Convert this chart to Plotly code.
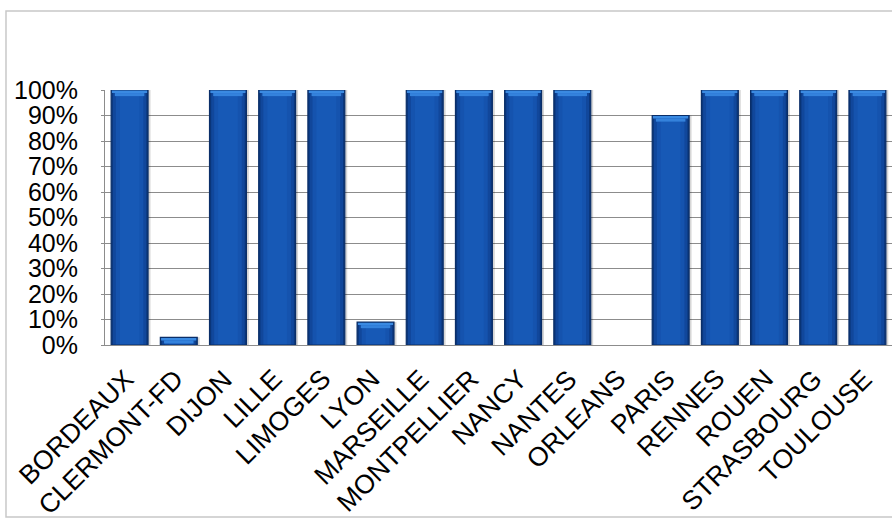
import plotly.graph_objects as go

cities = ["BORDEAUX", "CLERMONT-FD", "DIJON", "LILLE", "LIMOGES", "LYON",
          "MARSEILLE", "MONTPELLIER", "NANCY", "NANTES", "ORLEANS", "PARIS",
          "RENNES", "ROUEN", "STRASBOURG", "TOULOUSE"]
share = [1.00, 0.03, 1.00, 1.00, 1.00, 0.09,
         1.00, 1.00, 1.00, 1.00, 0.00, 0.90,
         1.00, 1.00, 1.00, 1.00]
y_ticks = [i / 10 for i in range(11)]
y_tick_text = [f"{i * 10}%" for i in range(11)]

font_family = "Arial, Liberation Sans, sans-serif"
bar_w = 0.75
cap = 0.012  # thickness of each step of the bevelled top

fig = go.Figure()

# soft drop shadow, nudged right of each bar
fig.add_trace(go.Bar(
    x=cities, y=share, width=bar_w, offset=-bar_w / 2 + 0.05,
    marker=dict(color="rgba(0,0,0,0.16)", line=dict(width=0)),
    hoverinfo="skip",
))

# bar body drawn as nested bands for a horizontal shading
body_bands = [(bar_w, "#0b377c"), (0.68, "#11479b"), (0.56, "#1553ae"), (0.40, "#1759b6")]
for w, c in body_bands:
    fig.add_trace(go.Bar(
        x=cities, y=share, width=w,
        marker=dict(color=c, line=dict(width=0)),
        hoverinfo="x+y" if w == bar_w else "skip",
    ))

# bevelled highlight: a wide top step and a narrower step beneath it
for step, (w, c) in enumerate([(bar_w - 0.03, "#3a8ae2"), (bar_w - 0.15, "#3482dc")]):
    h = [min(cap, max(v - step * cap, 0)) for v in share]
    b = [max(v - (step + 1) * cap, 0) for v in share]
    fig.add_trace(go.Bar(
        x=cities, y=h, base=b, width=w,
        marker=dict(color=c, line=dict(width=0)),
        hoverinfo="skip",
    ))

# dark outline around each non-empty bar
fig.add_trace(go.Bar(
    x=cities, y=share, width=bar_w,
    marker=dict(color="rgba(0,0,0,0)",
                line=dict(color="#0a2e68", width=[1.2 if v > 0 else 0 for v in share])),
    hoverinfo="skip",
))

# category names, slanted under each bar
labels = [dict(
    x=c, y=0, xref="x", yref="y", text=c, showarrow=False,
    textangle=-45, xanchor="right", yanchor="top",
    xshift=13, yshift=-16,
    font=dict(size=26.5, family=font_family, color="black"),
) for c in cities]

fig.update_layout(
    barmode="overlay",
    width=892, height=519,
    margin=dict(l=105, r=0, t=90, b=174),
    paper_bgcolor="white",
    plot_bgcolor="white",
    showlegend=False,
    font=dict(family=font_family, color="black"),
    annotations=labels,
    shapes=[dict(
        type="rect", xref="paper", yref="paper",
        x0=-0.1258, x1=1.05, y0=-0.6745, y1=1.3098,
        line=dict(color="#c8c8c8", width=1.5), layer="below",
    )],
)

fig.update_yaxes(
    range=[0, 1],
    tickvals=y_ticks, ticktext=y_tick_text,
    tickfont=dict(size=25, family=font_family, color="black"),
    showgrid=True, gridcolor="#8c8c8c", gridwidth=1,
    showline=True, linecolor="#8c8c8c", linewidth=1,
    ticks="outside", ticklen=3, tickcolor="#8c8c8c",
    ticklabelstandoff=18,
    zeroline=False, fixedrange=True,
)
fig.update_xaxes(
    range=[-0.5, len(cities) - 0.5],
    showticklabels=False,
    showline=True, linecolor="#8c8c8c", linewidth=1,
    fixedrange=True,
)

fig.write_html("out.html")
